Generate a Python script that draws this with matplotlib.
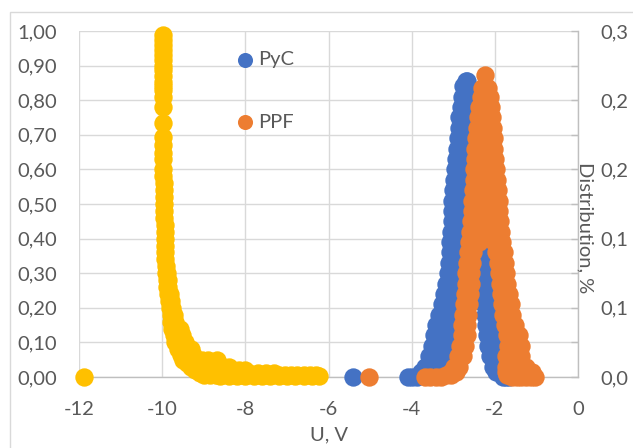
import matplotlib
matplotlib.use("Agg")
import matplotlib.pyplot as plt
from matplotlib.patches import Rectangle
from matplotlib.ticker import MultipleLocator, FixedLocator, FixedFormatter

plt.rcParams['font.family'] = ['Lato', 'DejaVu Sans']

# ---- data -------------------------------------------------------------
# yellow series, left axis: one y level per row, x positions in that row
yel_rows_y = [0.0, 0.988, 0.975, 0.96, 0.945, 0.93, 0.916, 0.90, 0.887, 0.87,
              0.853, 0.84, 0.83, 0.81, 0.78, 0.734, 0.694, 0.67, 0.647, 0.63,
              0.60, 0.58, 0.56, 0.54, 0.52, 0.50, 0.48, 0.46, 0.44, 0.42,
              0.40, 0.38, 0.36, 0.34, 0.32, 0.30, 0.28, 0.26, 0.24, 0.22,
              0.20, 0.18, 0.16, 0.14, 0.12, 0.10, 0.08, 0.065, 0.05, 0.04,
              0.03, 0.02, 0.012, 0.006, 0.002]
yel_rows_x = [[-11.87], [-9.98], [-9.99], [-9.98], [-9.98], [-9.97], [-9.99], [-9.98], [-9.98], [-9.99],
              [-9.97], [-9.98], [-9.97], [-9.98], [-9.99], [-9.98], [-9.98], [-9.97], [-9.98], [-9.97],
              [-9.97], [-9.97], [-9.96], [-9.96], [-9.96], [-9.95], [-9.95], [-9.95], [-9.94], [-9.94],
              [-9.93], [-9.93], [-9.92], [-9.92], [-9.91], [-9.90, -9.88], [-9.89, -9.86], [-9.88, -9.85],
              [-9.86, -9.82], [-9.84, -9.79],
              [-9.82, -9.76], [-9.79, -9.72], [-9.78, -9.70], [-9.76, -9.68, -9.58], [-9.72, -9.62, -9.52],
              [-9.68, -9.55, -9.45], [-9.62, -9.50, -9.38, -9.30], [-9.55, -9.40, -9.25],
              [-9.50, -9.35, -9.20, -9.05, -8.90, -8.68], [-9.40, -9.25, -9.10, -8.95, -8.80, -8.65],
              [-9.30, -9.15, -9.00, -8.85, -8.70, -8.55, -8.40],
              [-9.20, -9.05, -8.90, -8.75, -8.60, -8.45, -8.30, -8.15, -8.00],
              [-9.10, -8.90, -8.70, -8.50, -8.30, -8.10, -7.90, -7.70, -7.50, -7.30],
              [-9.00, -8.85, -8.70, -8.55, -8.40, -8.25, -8.10, -7.95, -7.80, -7.65, -7.50, -7.35,
               -7.20, -7.05, -6.90, -6.75, -6.60, -6.45, -6.30],
              [-8.60, -8.40, -8.20, -8.00, -7.80, -7.60, -7.40, -7.20, -7.00, -6.80, -6.60, -6.40, -6.22]]

# PyC distribution, right axis
pyc_rows_y = [0.0, 0.0045, 0.009, 0.018, 0.027, 0.036, 0.045, 0.054, 0.063, 0.072,
              0.081, 0.09, 0.099, 0.108, 0.117, 0.126, 0.135, 0.144, 0.153, 0.162,
              0.171, 0.18, 0.189, 0.198, 0.207, 0.216, 0.225, 0.234, 0.243, 0.252, 0.2565]
pyc_rows_x = [[-5.42, -4.09, -3.98, -3.88, -1.80, -1.72, -1.66],
              [-3.78, -3.62, -1.85, -1.97],
              [-3.69, -3.52, -3.36, -1.91, -2.05],
              [-3.59, -3.42, -3.26, -1.97, -2.12],
              [-3.51, -3.34, -3.18, -2.01, -2.16],
              [-3.46, -3.29, -3.12, -2.04, -2.19],
              [-3.41, -3.24, -3.07, -2.07, -2.22],
              [-3.35, -3.18, -3.02, -2.09, -2.24],
              [-3.28, -3.12, -2.96, -2.11, -2.26],
              [-3.22, -3.06, -2.92, -2.13, -2.28],
              [-3.17, -3.02, -2.88, -2.15, -2.30],
              [-3.13, -2.98, -2.84, -2.17, -2.32],
              [-3.10, -2.95, -2.80, -2.19, -2.34],
              [-3.08, -2.93, -2.78, -2.20, -2.35],
              [-3.07, -2.92, -2.77, -2.21, -2.36],
              [-3.05, -2.90, -2.75, -2.22, -2.37],
              [-3.04, -2.89, -2.74, -2.24, -2.38],
              [-3.03, -2.88, -2.73, -2.26, -2.40],
              [-3.02, -2.87, -2.72, -2.28, -2.42],
              [-3.00, -2.85, -2.70, -2.31, -2.45],
              [-2.99, -2.84, -2.69, -2.34, -2.48],
              [-2.96, -2.81, -2.66, -2.37, -2.51],
              [-2.94, -2.79, -2.64, -2.40, -2.53],
              [-2.92, -2.77, -2.62, -2.43, -2.55],
              [-2.89, -2.75, -2.60, -2.46, -2.57],
              [-2.87, -2.73, -2.59, -2.49],
              [-2.85, -2.71, -2.57, -2.52],
              [-2.82, -2.69, -2.56],
              [-2.79, -2.67, -2.60],
              [-2.76, -2.66],
              [-2.70, -2.66]]

# PPF distribution, right axis
ppf_rows_y = [0.0, 0.0015, 0.0045, 0.009, 0.018, 0.027, 0.036, 0.045, 0.054, 0.063,
              0.072, 0.081, 0.09, 0.099, 0.108, 0.117, 0.126, 0.135, 0.144, 0.153,
              0.162, 0.171, 0.18, 0.189, 0.198, 0.207, 0.216, 0.225, 0.234, 0.243,
              0.2505, 0.262]
ppf_rows_x = [[-5.03, -3.68, -3.55, -3.42, -3.30, -1.03, -1.14, -1.25, -1.36, -1.47, -1.58],
              [-3.18, -3.06, -1.10, -1.22, -1.34, -1.46, -1.58, -1.70],
              [-3.05, -2.93, -1.10, -1.25, -1.40, -1.55, -1.72],
              [-2.97, -2.85, -1.25, -1.40, -1.55, -1.72],
              [-2.89, -2.77, -1.38, -1.55, -1.72],
              [-2.83, -2.71, -1.36, -1.52, -1.68],
              [-2.80, -2.68, -1.43, -1.56, -1.70],
              [-2.78, -2.66, -1.52, -1.62, -1.75],
              [-2.76, -2.64, -1.58, -1.68, -1.80],
              [-2.74, -2.62, -1.62, -1.71, -1.82],
              [-2.72, -2.60, -1.66, -1.75, -1.85],
              [-2.70, -2.58, -1.70, -1.78, -1.87],
              [-2.69, -2.57, -1.73, -1.80, -1.90],
              [-2.67, -2.55, -1.76, -1.85, -1.93],
              [-2.64, -2.52, -1.78, -1.87, -1.97],
              [-2.61, -2.49, -2.37, -1.82, -1.92, -2.02],
              [-2.59, -2.46, -2.33, -2.20, -2.07, -1.96, -1.85],
              [-2.57, -2.44, -2.30, -2.16, -2.01, -1.87],
              [-2.56, -2.43, -2.29, -2.16, -2.02, -1.89],
              [-2.54, -2.41, -2.28, -2.16, -2.03, -1.91],
              [-2.52, -2.40, -2.28, -2.17, -2.05, -1.93],
              [-2.51, -2.39, -2.28, -2.17, -2.06, -1.95],
              [-2.50, -2.38, -2.27, -2.17, -2.07, -1.97],
              [-2.48, -2.37, -2.27, -2.18, -2.09, -1.99],
              [-2.47, -2.36, -2.26, -2.17, -2.08, -2.01],
              [-2.45, -2.35, -2.25, -2.15, -2.03],
              [-2.43, -2.33, -2.23, -2.14, -2.05],
              [-2.40, -2.31, -2.22, -2.14, -2.08],
              [-2.38, -2.29, -2.20, -2.10],
              [-2.34, -2.26, -2.18, -2.12],
              [-2.30, -2.22, -2.16],
              [-2.24]]

x_ticks = [-12, -10, -8, -6, -4, -2, 0]
x_tick_labels = ['-12', '-10', '-8', '-6', '-4', '-2', '0']
left_ticks = [0.0, 0.1, 0.2, 0.3, 0.4, 0.5, 0.6, 0.7, 0.8, 0.9, 1.0]
left_tick_labels = ['0,00', '0,10', '0,20', '0,30', '0,40', '0,50',
                    '0,60', '0,70', '0,80', '0,90', '1,00']
right_ticks = [0.0, 0.06, 0.12, 0.18, 0.24, 0.30]
right_tick_labels = ['0,0', '0,1', '0,1', '0,2', '0,2', '0,3']


def flatten(rows_y, rows_x):
    xs, ys = [], []
    for y, row in zip(rows_y, rows_x):
        for x in row:
            xs.append(x)
            ys.append(y)
    return xs, ys


yel_x, yel_y = flatten(yel_rows_y, yel_rows_x)
pyc_x, pyc_y = flatten(pyc_rows_y, pyc_rows_x)
ppf_x, ppf_y = flatten(ppf_rows_y, ppf_rows_x)

# ---- style ------------------------------------------------------------
C_BLUE = '#4472C4'
C_ORANGE = '#ED7D31'
C_YELLOW = '#FFC000'
C_TEXT = '#595959'
C_GRID = '#D9D9D9'
C_AXIS = '#BFBFBF'
FS = 14.5
MS = 175

W, H = 633, 448
fig = plt.figure(figsize=(W / 100, H / 100), dpi=100)
ax = fig.add_axes([79 / W, 1 - 377 / H, (578 - 79) / W, (377 - 31) / H])

ax.set_xlim(-12, 0)
ax.set_ylim(0, 1)
ax.xaxis.set_major_locator(FixedLocator(x_ticks))
ax.xaxis.set_major_formatter(FixedFormatter(x_tick_labels))
ax.yaxis.set_major_locator(FixedLocator(left_ticks))
ax.yaxis.set_major_formatter(FixedFormatter(left_tick_labels))
ax.grid(True, color=C_GRID, lw=1.0)
ax.set_axisbelow(True)
for s in ['left', 'top', 'right']:
    ax.spines[s].set_visible(False)
ax.spines['bottom'].set_color(C_AXIS)
ax.spines['bottom'].set_linewidth(1.0)
ax.tick_params(axis='x', length=0, pad=17, labelsize=FS, labelcolor=C_TEXT)
ax.tick_params(axis='y', length=0, pad=16, labelsize=FS, labelcolor=C_TEXT)

ax.scatter(yel_x, yel_y, s=MS, color=C_YELLOW, lw=0, clip_on=False, zorder=3)

ax2 = ax.twinx()
ax2.set_ylim(0, 0.3)
ax2.yaxis.set_major_locator(FixedLocator(right_ticks))
ax2.yaxis.set_major_formatter(FixedFormatter(right_tick_labels))
ax2.yaxis.set_minor_locator(MultipleLocator(0.03))
for s in ['left', 'top', 'bottom']:
    ax2.spines[s].set_visible(False)
ax2.spines['right'].set_color(C_AXIS)
ax2.spines['right'].set_linewidth(1.0)
ax2.tick_params(axis='y', which='both', direction='in', length=5, width=1.0,
                color=C_AXIS, pad=16, labelsize=FS, labelcolor=C_TEXT)

ax2.scatter(pyc_x, pyc_y, s=MS, color=C_BLUE, lw=0, clip_on=False, zorder=3, label='PyC')
ax2.scatter(ppf_x, ppf_y, s=MS, color=C_ORANGE, lw=0, clip_on=False, zorder=4, label='PPF')

leg = ax2.legend(loc='upper left', bbox_to_anchor=(235 / W, 1 - 51 / H),
                 bbox_transform=fig.transFigure, frameon=False, fontsize=FS,
                 handlelength=1.0, handletextpad=0.15, labelspacing=2.25,
                 borderpad=0, borderaxespad=0, markerscale=0.82, scatterpoints=1)
for t in leg.get_texts():
    t.set_color(C_TEXT)

ax.set_xlabel('U, V', fontsize=FS, color=C_TEXT, labelpad=6)
fig.text(585 / W, 1 - 228 / H, 'Distribution, %', rotation=270, fontsize=FS,
         color=C_TEXT, ha='center', va='center')

fig.add_artist(Rectangle((10 / W, -0.5), 2, 0.5 + 1 - 12 / H, transform=fig.transFigure,
                         fill=False, ec=C_GRID, lw=1.0))

fig.savefig('out.png', dpi=100)
